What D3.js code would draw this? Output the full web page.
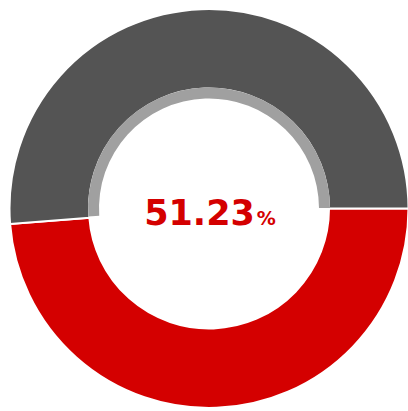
<!DOCTYPE html>
<html>
<head>
<meta charset="utf-8">
<script src="https://cdn.jsdelivr.net/npm/d3@7"></script>
<style>
  html, body { margin: 0; padding: 0; background: #fff; }
  svg { display: block; }
</style>
</head>
<body>
<svg id="chart" width="408" height="411"></svg>
<script>
const categories = ["其他", "占比"];
const values = [48.77, 51.23];
const centerLabel = "51.23";
const colors = ["#d40000", "#545454"];
const innerRingColor = "#a0a0a0";

const svg = d3.select("#chart");
const cx = 209, cy = 208.5;
const outerR = 199.5, innerR = 120, ringInner = 110;

const g = svg.append("g").attr("transform", `translate(${cx},${cy})`);

const pie = d3.pie().sort(null).value(d => d.value)
  .startAngle(Math.PI / 2).endAngle(Math.PI / 2 + 2 * Math.PI);
const data = categories.map((c, i) => ({ cat: c, value: values[i], i }));
const arcs = pie(data);

const arc = d3.arc().innerRadius(innerR).outerRadius(outerR);
const ringArc = d3.arc().innerRadius(ringInner).outerRadius(innerR + 1);

g.selectAll("path.slice").data(arcs).join("path")
  .attr("class", "slice")
  .attr("d", arc)
  .attr("fill", d => colors[d.index])
  .attr("stroke", "#fff").attr("stroke-width", 2);

// inner light ring for the highlighted (grey) slice
g.selectAll("path.ring").data(arcs.filter(d => d.index === 1)).join("path")
  .attr("class", "ring")
  .attr("d", d => ringArc({ startAngle: d.startAngle + 0.012, endAngle: d.endAngle - 0.004 }))
  .attr("fill", innerRingColor);

const t = g.append("text")
  .attr("text-anchor", "middle")
  .attr("x", 1)
  .attr("y", 16.5)
  .attr("fill", "#d40000")
  .attr("font-family", "DejaVu Sans, sans-serif")
  .attr("font-weight", "bold");
t.append("tspan").attr("font-size", 35).text(centerLabel);
t.append("tspan").attr("font-size", 19).attr("dx", 2).text("%");
</script>
</body>
</html>
